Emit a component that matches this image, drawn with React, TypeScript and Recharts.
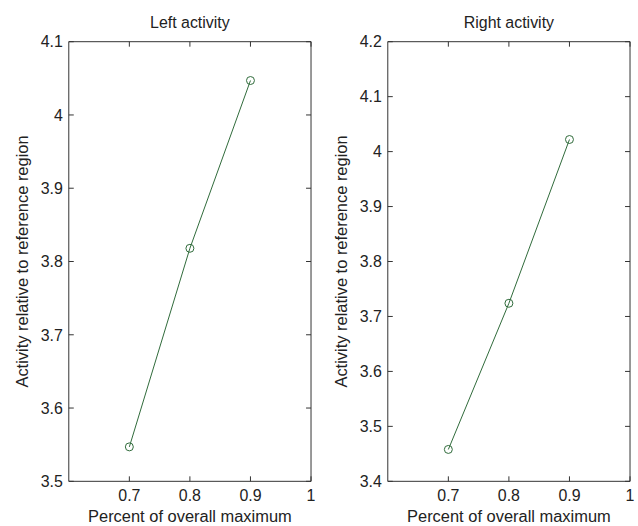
import React from "react";
import { Line, LineChart, ReferenceLine, XAxis, YAxis } from "recharts";

const percentOfMax = [0.7, 0.8, 0.9];
const leftActivity = [3.547, 3.818, 4.047];
const rightActivity = [3.458, 3.724, 4.022];

const xTicks = [0.7, 0.8, 0.9, 1];
const leftTicks = [3.5, 3.6, 3.7, 3.8, 3.9, 4, 4.1];
const rightTicks = [3.4, 3.5, 3.6, 3.7, 3.8, 3.9, 4, 4.1, 4.2];

const AXIS = "#333333";
const TEXT = "#222222";
const LINE = "#2f6a3a";
const FONT = "'Liberation Sans', Arial, sans-serif";

const CHART_W = 320;
const CHART_H = 526;
const Y_AXIS_W = 69;
const RIGHT_GAP = 8;
const PLOT_W = CHART_W - Y_AXIS_W - RIGHT_GAP;

const fmt = (v: number) => String(Number(v.toFixed(2)));

const BottomTick = (props: any) => {
  const { x, y, payload } = props;
  return (
    <g>
      <line x1={x} y1={y} x2={x} y2={y - 5} stroke={AXIS} />
      <text x={x} y={y + 20} textAnchor="middle" fontSize={16} fill={TEXT} fontFamily={FONT}>
        {fmt(payload.value)}
      </text>
    </g>
  );
};

const TopTick = (props: any) => {
  const { x, y } = props;
  return <line x1={x} y1={y} x2={x} y2={y + 5} stroke={AXIS} />;
};

// left tick label + inward ticks on both the left and right box edges
const LeftTick = (props: any) => {
  const { x, y, payload, plotWidth } = props;
  return (
    <g>
      <line x1={x} y1={y} x2={x + 5} y2={y} stroke={AXIS} />
      <line x1={x + plotWidth} y1={y} x2={x + plotWidth - 5} y2={y} stroke={AXIS} />
      <text x={x - 6} y={y} dy="0.36em" textAnchor="end" fontSize={16} fill={TEXT} fontFamily={FONT}>
        {fmt(payload.value)}
      </text>
    </g>
  );
};

interface PanelProps {
  title: string;
  values: number[];
  yTicks: number[];
}

function Panel({ title, values, yTicks }: PanelProps) {
  const data = percentOfMax.map((p, i) => ({ p, v: values[i] }));
  const yDomain = [yTicks[0], yTicks[yTicks.length - 1]];

  return (
    <LineChart
      width={CHART_W}
      height={CHART_H}
      data={data}
      margin={{ top: 40, right: RIGHT_GAP, left: 0, bottom: 0 }}
      style={{ fontFamily: FONT }}
    >
      <XAxis
        dataKey="p"
        type="number"
        domain={[0.6, 1]}
        ticks={xTicks}
        interval={0}
        allowDataOverflow
        height={44}
        tickSize={0}
        tickMargin={0}
        tick={<BottomTick />}
        axisLine={{ stroke: AXIS }}
        label={{
          value: "Percent of overall maximum",
          position: "insideBottom",
          offset: 3,
          fontSize: 16.5,
          fill: TEXT,
        }}
      />
      <XAxis
        xAxisId="top"
        dataKey="p"
        orientation="top"
        type="number"
        domain={[0.6, 1]}
        ticks={xTicks}
        interval={0}
        allowDataOverflow
        height={1}
        tickSize={0}
        tickMargin={0}
        tick={<TopTick />}
        axisLine={{ stroke: AXIS }}
        label={{ value: title, position: "top", offset: 13, fontSize: 16, fill: TEXT }}
      />
      <YAxis
        type="number"
        domain={yDomain}
        ticks={yTicks}
        interval={0}
        allowDataOverflow
        width={Y_AXIS_W}
        tickSize={0}
        tickMargin={0}
        tick={<LeftTick plotWidth={PLOT_W} />}
        axisLine={{ stroke: AXIS }}
        label={{
          value: "Activity relative to reference region",
          angle: -90,
          position: "insideLeft",
          offset: 22,
          fontSize: 16.5,
          fill: TEXT,
          style: { textAnchor: "middle" },
        }}
      />
      {/* right edge of the box */}
      <ReferenceLine x={1} stroke={AXIS} ifOverflow="visible" />
      <Line
        dataKey="v"
        stroke={LINE}
        strokeWidth={1}
        dot={{ r: 4, stroke: LINE, strokeWidth: 1, fill: "none" }}
        activeDot={false}
        isAnimationActive={false}
      />
    </LineChart>
  );
}

export default function App() {
  return (
    <div
      style={{
        position: "absolute",
        left: 0,
        top: 0,
        width: 638,
        height: 526,
        background: "#fff",
        display: "flex",
      }}
    >
      <Panel title="Left activity" values={leftActivity} yTicks={leftTicks} />
      <Panel title="Right activity" values={rightActivity} yTicks={rightTicks} />
    </div>
  );
}
